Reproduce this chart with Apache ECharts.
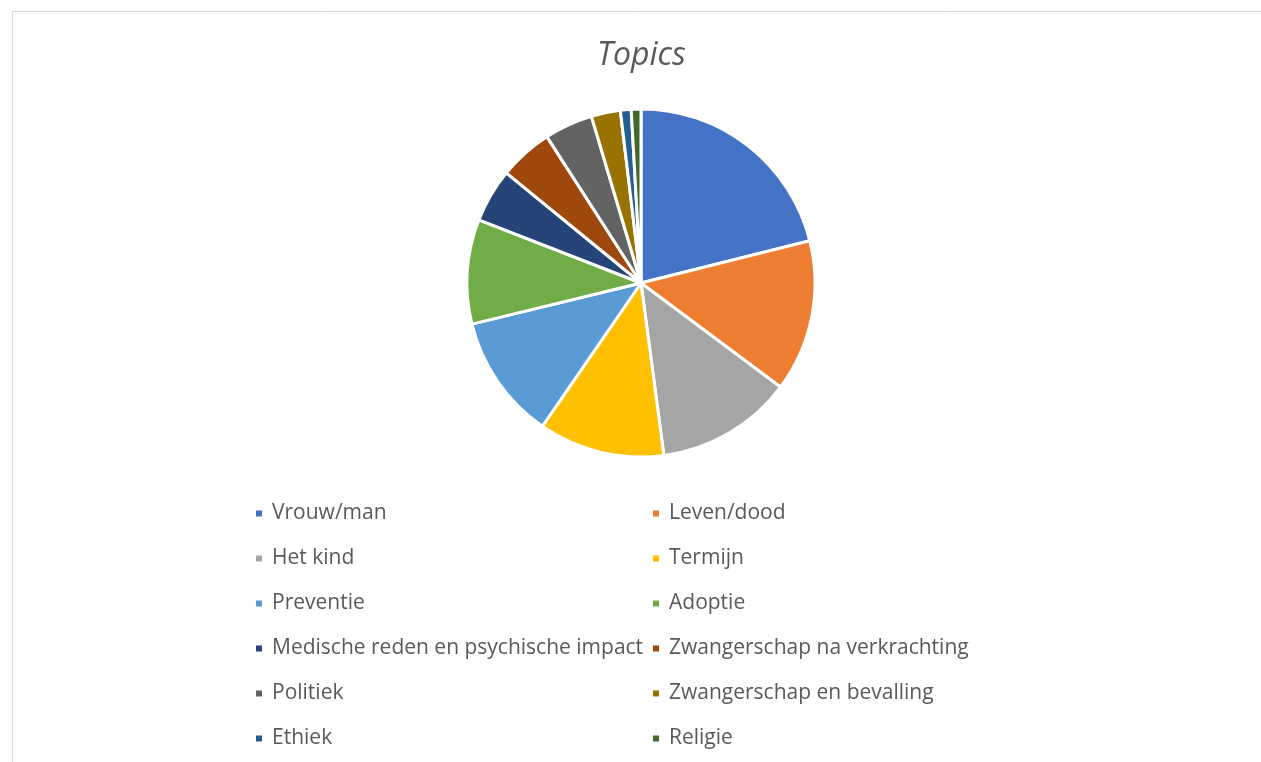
<!DOCTYPE html>
<html lang="nl">
<head>
    <meta charset="UTF-8">
    <title>Topics</title>
    <script src="https://cdn.jsdelivr.net/npm/echarts@6.0.0/dist/echarts.min.js"></script>
    <style>
        html, body { margin: 0; padding: 0; background: #fff; }
        #chart { width: 1261px; height: 762px; }
    </style>
</head>
<body>
    <div id="chart"></div>
    <script>
        // onderwerpen en aandeel (geschat uit de afbeelding, in %)
        const topics = [
            'Vrouw/man', 'Leven/dood', 'Het kind', 'Termijn', 'Preventie', 'Adoptie',
            'Medische reden en psychische impact', 'Zwangerschap na verkrachting',
            'Politiek', 'Zwangerschap en bevalling', 'Ethiek', 'Religie'
        ];
        const shares = [21.1, 14.1, 12.7, 11.7, 11.6, 9.7, 5.0, 5.0, 4.5, 2.7, 1.0, 0.9];
        const colors = [
            '#4472c4', '#ed7d31', '#a5a5a5', '#ffc000', '#5b9bd5', '#70ad47',
            '#264478', '#9e480e', '#636363', '#997300', '#255e91', '#43682b'
        ];

        const chart = echarts.init(document.getElementById('chart'));

        const leftCol = topics.filter((t, i) => i % 2 === 0);
        const rightCol = topics.filter((t, i) => i % 2 === 1);

        const legendBase = {
            orient: 'vertical',
            top: 497,
            itemWidth: 8,
            itemHeight: 8,
            itemGap: 22,
            icon: 'rect',
            selectedMode: false,
            textStyle: {
                fontFamily: 'Open Sans',
                fontSize: 21,
                color: '#595959',
                lineHeight: 23,
                padding: [0, 0, 0, 4]
            }
        };

        chart.setOption({
            animation: false,
            color: colors,
            title: {
                text: 'Topics',
                left: 592,
                top: 35,
                textStyle: {
                    fontFamily: 'Open Sans',
                    fontStyle: 'italic',
                    fontWeight: 'normal',
                    fontSize: 32,
                    color: '#595959'
                }
            },
            graphic: [{
                type: 'rect',
                left: 10,
                top: 9,
                shape: { width: 1300, height: 800 },
                style: { fill: 'none', stroke: '#d9d9d9', lineWidth: 1 },
                silent: true
            }],
            legend: [
                Object.assign({}, legendBase, { left: 249, data: leftCol }),
                Object.assign({}, legendBase, { left: 646, data: rightCol })
            ],
            series: [{
                type: 'pie',
                center: [641, 283],
                radius: 174,
                startAngle: 90,
                clockwise: true,
                label: { show: false },
                labelLine: { show: false },
                itemStyle: { borderColor: '#fff', borderWidth: 3 },
                emphasis: { disabled: true },
                data: topics.map((name, i) => ({ name: name, value: shares[i] }))
            }]
        });
    </script>
</body>
</html>
